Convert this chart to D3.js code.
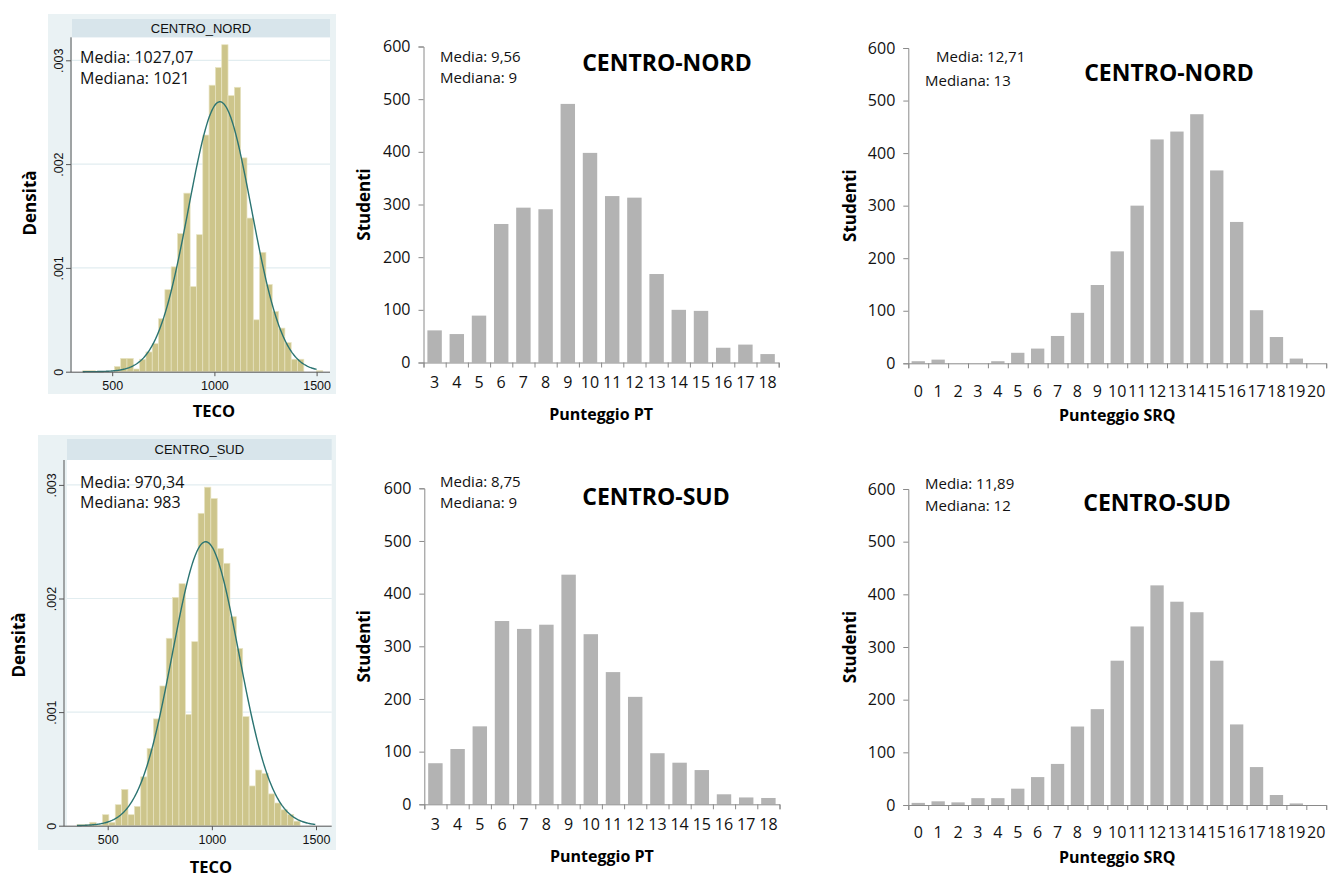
<!DOCTYPE html>
<html><head><meta charset="utf-8">
<script src="https://cdn.jsdelivr.net/npm/d3@7"></script>
<style>
body{margin:0;background:#fff}
svg{display:block}
text{font-family:"Open Sans",sans-serif}
</style>
</head><body>
<svg id="c" width="1328" height="877"></svg>
<script>
// ---------------- DATA ----------------
const tecoStripTitles = ["CENTRO_NORD", "CENTRO_SUD"];
const tecoStats = [["Media: 1027,07", "Mediana: 1021"], ["Media: 970,34", "Mediana: 983"]];
const tecoBinStart = [356, 352.6];
const tecoBinWidth = [30.9, 30.6];
const tecoNordDensity = [0.00001, 0.00001, 0, 0, 0, 0.00005, 0.000128, 0.000128, 0.000026, 0.00012,
  0.00019, 0.00027, 0.00051, 0.00079, 0.00101, 0.00133, 0.00172, 0.00082, 0.00132, 0.00228,
  0.00276, 0.00293, 0.00315, 0.00266, 0.00274, 0.00206, 0.00148, 0.0005, 0.00115, 0.00084,
  0.00058, 0.00042, 0.00028, 0.00012, 0.00012, 0, 0, 0.00001];
const tecoSudDensity = [0.00001, 0.00001, 0.00003, 0.000005, 0.000097, 0.00003, 0.000185, 0.00032, 0.000097, 0.00017,
  0.00043, 0.00068, 0.00094, 0.00123, 0.00165, 0.00201, 0.00213, 0.00098, 0.00162, 0.00275,
  0.00298, 0.00288, 0.00244, 0.00231, 0.00184, 0.00156, 0.00096, 0.00035, 0.00049, 0.00046,
  0.00028, 0.0002, 0.00014, 0.0001, 0.00004];
const tecoMean = [1027.07, 970.34];
const tecoSd = [153.4, 159.6];
const tecoCurveEnd = [1500, 1500];
const densityTicks = [0, 0.001, 0.002, 0.003];
const densityTickLabels = ["0", ".001", ".002", ".003"];
const tecoTicks = [500, 1000, 1500];

const ptCategories = ["3","4","5","6","7","8","9","10","11","12","13","14","15","16","17","18"];
const ptNord = [61, 54, 89, 263, 294, 291, 491, 398, 316, 313, 168, 100, 98, 28, 34, 16];
const ptSud = [78, 105, 148, 348, 333, 341, 436, 323, 251, 204, 97, 79, 65, 19, 13, 12];
const srqCategories = ["0","1","2","3","4","5","6","7","8","9","10","11","12","13","14","15","16","17","18","19","20"];
const srqNord = [4, 7, 0, 0, 4, 20, 28, 52, 96, 149, 213, 300, 426, 441, 474, 367, 269, 101, 50, 9, 0];
const srqSud = [4, 7, 5, 13, 13, 31, 53, 78, 149, 182, 274, 339, 417, 386, 366, 274, 153, 72, 19, 3, 0];
const countTicks = [0, 100, 200, 300, 400, 500, 600];
const barTitles = ["CENTRO-NORD", "CENTRO-SUD"];
const ptStats = [["Media: 9,56", "Mediana: 9"], ["Media: 8,75", "Mediana: 9"]];
const srqStats = [["Media: 12,71", "Mediana: 13"], ["Media: 11,89", "Mediana: 12"]];
const xTitles = ["Punteggio PT", "Punteggio SRQ"];

// ---------------- DRAW ----------------
const svg = d3.select("#c");

function drawDensity(cfg, k, density) {
  const g = svg.append("g");
  g.append("rect").attr("x", cfg.outer[0]).attr("y", cfg.outer[1])
    .attr("width", cfg.outer[2] - cfg.outer[0]).attr("height", cfg.outer[3] - cfg.outer[1])
    .attr("fill", "#eaf2f4");
  const x = d3.scaleLinear().domain([500, 1500]).range([cfg.x500, cfg.x1500]);
  const y = d3.scaleLinear().domain([0, 0.003]).range([cfg.y0, cfg.y003]);
  g.append("rect").attr("x", cfg.plotX[0]).attr("y", cfg.strip[3])
    .attr("width", cfg.plotX[1] - cfg.plotX[0]).attr("height", cfg.y0 - cfg.strip[3])
    .attr("fill", "#fff");
  g.append("rect").attr("x", cfg.strip[0]).attr("y", cfg.strip[1])
    .attr("width", cfg.strip[2] - cfg.strip[0]).attr("height", cfg.strip[3] - cfg.strip[1])
    .attr("fill", "#d8e5eb");
  g.append("text").attr("x", (cfg.strip[0] + cfg.strip[2]) / 2).attr("y", (cfg.strip[1] + cfg.strip[3]) / 2 + 4.5)
    .attr("text-anchor", "middle").style("font-family", "Liberation Sans, Arial, sans-serif")
    .style("font-size", "13px").attr("fill", "#111").text(tecoStripTitles[k]);
  g.selectAll("line.grid").data(densityTicks.slice(1)).join("line")
    .attr("x1", cfg.plotX[0]).attr("x2", cfg.plotX[1])
    .attr("y1", d => y(d)).attr("y2", d => y(d))
    .attr("stroke", "#e2edf0").attr("stroke-width", 1.2);
  const w = tecoBinWidth[k], s = tecoBinStart[k];
  g.selectAll("rect.bar").data(density).join("rect")
    .attr("x", (d, i) => x(s + i * w))
    .attr("width", x(s + w) - x(s))
    .attr("y", d => y(d))
    .attr("height", d => y(0) - y(d))
    .attr("fill", "#cdc58b").attr("stroke", "#e8e4c3").attr("stroke-width", 0.7);
  const m = tecoMean[k], sd = tecoSd[k];
  const pts = d3.range(s, tecoCurveEnd[k] + 0.1, 4).map(v => [v, Math.exp(-0.5 * ((v - m) / sd) ** 2) / (sd * Math.sqrt(2 * Math.PI))]);
  g.append("path").datum(pts)
    .attr("d", d3.line().x(d => x(d[0])).y(d => y(d[1])))
    .attr("fill", "none").attr("stroke", "#2b7472").attr("stroke-width", 1.4);
  const ax = g.append("g").attr("transform", `translate(0,${cfg.y0 + 0.5})`)
    .call(d3.axisBottom(x).tickValues(tecoTicks).tickSize(4).tickPadding(5).tickFormat(d3.format("d")));
  ax.select(".domain").attr("d", `M${cfg.axisX},0H${cfg.plotX[1]}`).attr("stroke", "#555");
  ax.selectAll(".tick line").attr("stroke", "#555");
  ax.selectAll(".tick text").style("font-family", "Liberation Sans, Arial, sans-serif").style("font-size", "12.5px").attr("fill", "#111");
  const ay = g.append("g").attr("transform", `translate(${cfg.axisX},0)`)
    .call(d3.axisLeft(y).tickValues(densityTicks).tickSize(5).tickFormat((d, i) => densityTickLabels[i]));
  ay.select(".domain").attr("d", `M0,${cfg.y0 + 0.5}V${cfg.strip[3]}`).attr("stroke", "#555");
  ay.selectAll(".tick line").attr("stroke", "#555");
  ay.selectAll(".tick text").attr("x", 0).attr("dy", 0)
    .attr("transform", "translate(-8,0) rotate(-90)").attr("text-anchor", "middle")
    .style("font-family", "Liberation Sans, Arial, sans-serif").style("font-size", "12.5px").attr("fill", "#111");
  tecoStats[k].forEach((t, i) => g.append("text").attr("x", cfg.mediaX).attr("y", cfg.mediaY[i])
    .style("font-size", "16px").attr("fill", "#111").text(t));
  g.append("text").attr("x", cfg.tecoX).attr("y", cfg.tecoY).attr("text-anchor", "middle")
    .style("font-size", "16.5px").style("font-weight", "bold").attr("fill", "#000").text("TECO");
  g.append("text").attr("transform", `translate(${cfg.densX},${cfg.densY}) rotate(-90)`).attr("text-anchor", "middle")
    .style("font-size", "17px").style("font-weight", "bold").attr("fill", "#000").text("Densità");
}

drawDensity({outer: [48, 14, 336, 394], strip: [72, 19, 330, 37.3], plotX: [72, 330], axisX: 71,
  x500: 112.2, x1500: 316.6, y0: 371.7, y003: 60.3, mediaX: 80, mediaY: [62.7, 84],
  tecoX: 214, tecoY: 417, densX: 36, densY: 203}, 0, tecoNordDensity);
drawDensity({outer: [38, 435, 336, 850], strip: [67, 439, 331.7, 460], plotX: [67, 331.7], axisX: 64,
  x500: 107.7, x1500: 316, y0: 825.7, y003: 484.9, mediaX: 80, mediaY: [488.3, 508.3],
  tecoX: 211, tecoY: 872.5, densX: 25, densY: 645}, 1, tecoSudDensity);

function drawBars(cfg, cats, values, stats, title, xTitle, pad) {
  const g = svg.append("g");
  const n = cats.length;
  const end = cfg.axisX + n * cfg.step;
  const xb = d3.scaleBand().domain(cats).range([cfg.axisX, end]).paddingInner(pad).paddingOuter(pad / 2);
  const xl = d3.scaleLinear().domain([0, n]).range([cfg.axisX, end]);
  const y = d3.scaleLinear().domain([0, 600]).range([cfg.base, cfg.top]);
  g.selectAll("rect").data(values).join("rect")
    .attr("x", (d, i) => xb(cats[i])).attr("width", xb.bandwidth())
    .attr("y", d => y(d)).attr("height", d => y(0) - y(d)).attr("fill", "#b3b3b3");
  const ay = g.append("g").attr("transform", `translate(${cfg.axisX},0)`)
    .call(d3.axisLeft(y).tickValues(countTicks).tickSize(5).tickPadding(8));
  ay.select(".domain").attr("stroke", "#8a8a8a");
  ay.selectAll(".tick line").attr("stroke", "#8a8a8a");
  ay.selectAll(".tick text").style("font-size", "16px").attr("fill", "#111");
  const ax = g.append("g").attr("transform", `translate(0,${cfg.base})`)
    .call(d3.axisBottom(xl).tickValues(d3.range(n + 1)).tickSize(5).tickFormat(""));
  ax.select(".domain").attr("stroke", "#8a8a8a");
  ax.selectAll(".tick line").attr("stroke", "#8a8a8a");
  const axl = g.append("g").attr("transform", `translate(0,${cfg.base})`)
    .call(d3.axisBottom(xb).tickSize(0).tickPadding(cfg.labelPad));
  axl.select(".domain").remove();
  axl.selectAll(".tick text").style("font-size", "16px").attr("fill", "#111");
  stats.forEach((t, i) => g.append("text").attr("x", cfg.mediaX[i]).attr("y", cfg.mediaY[i])
    .style("font-size", "15px").attr("fill", "#111").text(t));
  g.append("text").attr("x", cfg.titleX).attr("y", cfg.titleY).attr("text-anchor", "middle")
    .style("font-size", "23px").style("font-weight", "bold").attr("fill", "#000").text(title);
  g.append("text").attr("x", (cfg.axisX + end) / 2).attr("y", cfg.xTitleY).attr("text-anchor", "middle")
    .style("font-size", "16px").style("font-weight", "bold").attr("fill", "#000").text(xTitle);
  g.append("text").attr("transform", `translate(${cfg.yTitleX},${(cfg.base + cfg.top) / 2}) rotate(-90)`)
    .attr("text-anchor", "middle")
    .style("font-size", "17px").style("font-weight", "bold").attr("fill", "#000").text("Studenti");
}

drawBars({axisX: 423.5, step: 22.2, base: 362.5, top: 46.5, labelPad: 14, mediaX: [440, 440], mediaY: [62.3, 83.3],
  titleX: 667, titleY: 70.7, xTitleY: 420, yTitleX: 370}, ptCategories, ptNord, ptStats[0], barTitles[0], xTitles[0], 0.35);
drawBars({axisX: 908.3, step: 19.9, base: 363.3, top: 48, labelPad: 22, mediaX: [936, 925], mediaY: [62, 86],
  titleX: 1169, titleY: 81, xTitleY: 421, yTitleX: 856}, srqCategories, srqNord, srqStats[0], barTitles[0], xTitles[1], 0.33);
drawBars({axisX: 424.3, step: 22.2, base: 804.3, top: 488.3, labelPad: 14, mediaX: [440, 440], mediaY: [487, 508],
  titleX: 656, titleY: 505, xTitleY: 862, yTitleX: 370}, ptCategories, ptSud, ptStats[1], barTitles[1], xTitles[0], 0.35);
drawBars({axisX: 908.3, step: 19.9, base: 805, top: 489, labelPad: 22, mediaX: [925, 925], mediaY: [489, 511],
  titleX: 1157, titleY: 511, xTitleY: 863, yTitleX: 856}, srqCategories, srqSud, srqStats[1], barTitles[1], xTitles[1], 0.33);
</script>
</body></html>
